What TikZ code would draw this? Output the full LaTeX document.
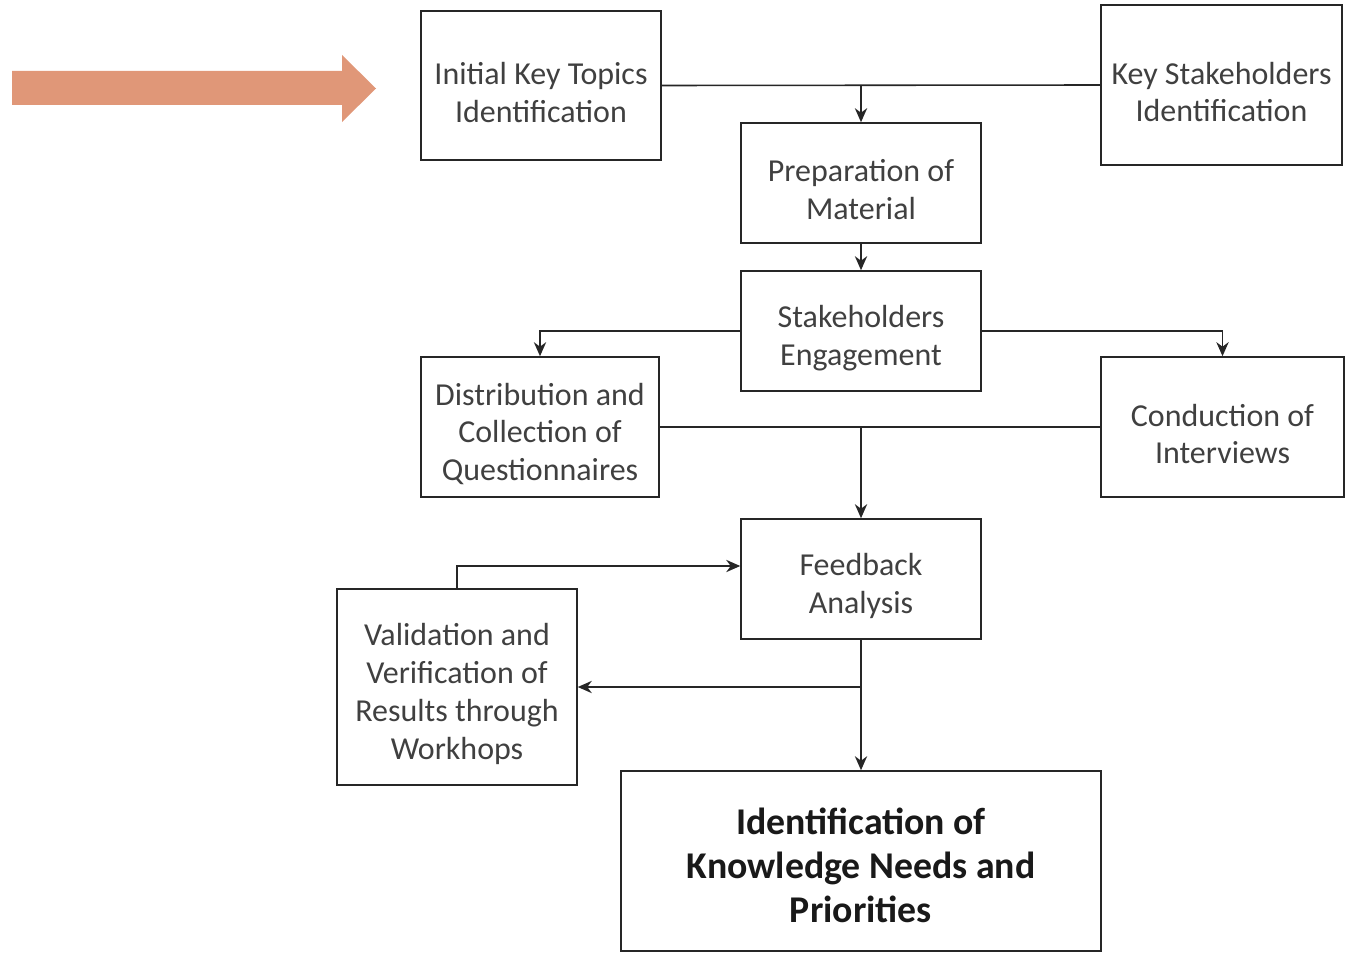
\documentclass[tikz,border=0pt]{standalone}
\usepackage{fontspec}
\setmainfont{Carlito}
\usetikzlibrary{arrows.meta}
\definecolor{bigarrow}{RGB}{224,151,120}
\begin{document}
\begin{tikzpicture}[x=0.02cm,y=-0.02cm,
 box/.style={draw=black!85, line width=0.9pt, rectangle, inner sep=0},
 txt/.style={align=center, inner sep=0, yshift=-0.14cm,
   font=\fontsize{18.2}{21.6}\selectfont, text=black!75},
 btxt/.style={align=center, inner sep=0, yshift=-0.08cm,
   font=\fontsize{21.5}{25}\selectfont\bfseries, text=black!90},
 conn/.style={draw=black!85, line width=0.9pt},
 arr/.style={conn,-{Stealth[length=8pt,width=7pt]}}]
\useasboundingbox (0,0) rectangle (1355,953);
\fill[bigarrow] (12,71) -- (342,71) -- (342,55) -- (376,88.5) -- (342,122) -- (342,105) -- (12,105) -- cycle;
\node[box, minimum width=4.8cm, minimum height=2.98cm, label={[txt]center:Initial Key Topics\\Identification}] (init) at (541,85.5) {};
\node[box, minimum width=4.82cm, minimum height=3.2cm, label={[txt]center:Key Stakeholders\\Identification}] (keys) at (1221.5,85) {};
\node[box, minimum width=4.8cm, minimum height=2.4cm, label={[txt]center:Preparation of\\Material}] (prep) at (861,183) {};
\node[box, minimum width=4.8cm, minimum height=2.4cm, label={[txt]center:Stakeholders\\Engagement}] (eng) at (861,331) {};
\node[box, minimum width=4.76cm, minimum height=2.8cm, label={[txt]center:Distribution and\\Collection of\\Questionnaires}] (dist) at (540,427) {};
\node[box, minimum width=4.86cm, minimum height=2.8cm, label={[txt]center:Conduction of\\Interviews}] (cond) at (1222.5,427) {};
\node[box, minimum width=4.8cm, minimum height=2.4cm, label={[txt]center:Feedback\\Analysis}] (feed) at (861,579) {};
\node[box, minimum width=4.8cm, minimum height=3.92cm, label={[txt]center:Validation and\\Verification of\\Results through\\Workhops}] (val) at (457,687) {};
\node[box, minimum width=9.6cm, minimum height=3.6cm, label={[btxt]center:Identification of\\Knowledge Needs and\\Priorities}] (ident) at (861,861) {};
\coordinate (j1) at (861,85.5);
\coordinate (j2) at (861,427);
\coordinate (j3) at (861,687);
\draw[conn] (init.east) -- (keys.west);
\draw[arr] (j1) -- (prep.north);
\draw[arr] (prep.south) -- (eng.north);
\draw[arr] (eng.west) -| (dist.north);
\draw[arr] (eng.east) -| (cond.north);
\draw[conn] (dist.east) -- (cond.west);
\draw[arr] (j2) -- (feed.north);
\draw[arr] (val.north) |- ([yshift=0.26cm]feed.west);
\draw[arr] (feed.south) -- (ident.north);
\draw[arr] (j3) -- (val.east);
\end{tikzpicture}
\end{document}
